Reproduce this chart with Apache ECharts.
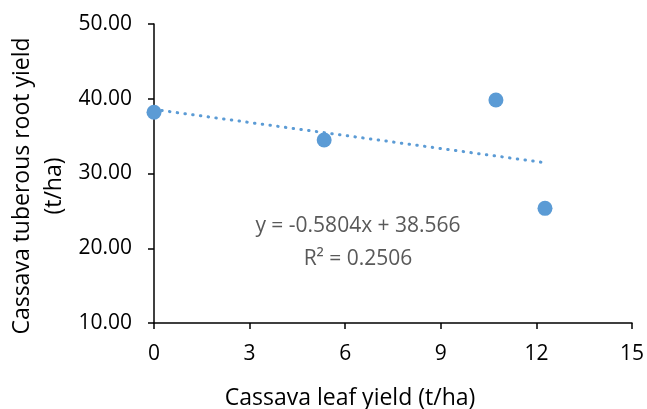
<!DOCTYPE html>
<html>
<head>
<meta charset="utf-8">
<script src="https://cdn.jsdelivr.net/npm/echarts@6/dist/echarts.min.js"></script>
<style>html,body{margin:0;padding:0;background:#fff}#c{width:647px;height:409px}</style>
</head>
<body>
<div id="c"></div>
<script>
// Data
var leafYield = [0, 5.34, 10.73, 12.27];
var rootYield = [38.19, 34.48, 39.83, 25.34];
var trendSlope = -0.5804;
var trendIntercept = 38.566;
var trendX = [0, 12.2];
var xTicks = [0, 3, 6, 9, 12, 15];
var yTicks = [10, 20, 30, 40, 50];
var xTitle = 'Cassava leaf yield (t/ha)';
var yTitle = 'Cassava tuberous root yield\n(t/ha)';
var eqText = 'y = -0.5804x + 38.566';
var r2Text = 'R\u00B2 = 0.2506';

var FONT = '"Open Sans", sans-serif';
var chart = echarts.init(document.getElementById('c'));
var pts = leafYield.map(function (x, i) { return [x, rootYield[i]]; });
var trend = trendX.map(function (x) { return [x, trendIntercept + trendSlope * x]; });

chart.setOption({
  animation: false,
  backgroundColor: '#ffffff',
  grid: { left: 154, right: 13, top: 24, bottom: 86, containLabel: false },
  xAxis: {
    type: 'value', min: xTicks[0], max: xTicks[xTicks.length - 1], interval: 3,
    axisLine: { show: true, onZero: false, lineStyle: { color: '#000', width: 1.5 } },
    axisTick: { show: true, length: 6, lineStyle: { color: '#000', width: 1.5 } },
    axisLabel: { color: '#000', fontFamily: FONT, fontSize: 21, margin: 21 },
    splitLine: { show: false }
  },
  yAxis: {
    type: 'value', min: yTicks[0], max: yTicks[yTicks.length - 1], interval: 10,
    axisLine: { show: true, lineStyle: { color: '#000', width: 1.5 } },
    axisTick: { show: true, length: 6, lineStyle: { color: '#000', width: 1.5 } },
    axisLabel: { color: '#000', fontFamily: FONT, fontSize: 21, margin: 22,
      formatter: function (v) { return v.toFixed(2); } },
    splitLine: { show: false }
  },
  series: [
    {
      type: 'line', data: trend, symbol: 'none', silent: true, z: 1,
      lineStyle: { color: '#5B9BD5', width: 3, type: [0.5, 7.3], cap: 'round' }
    },
    {
      type: 'scatter', data: pts, symbol: 'circle', symbolSize: 15, z: 3,
      itemStyle: { color: '#5B9BD5', opacity: 1 }
    }
  ],
  graphic: [
    { type: 'text', x: 350, y: 398, style: { text: xTitle, fill: '#000', font: '23px ' + FONT, textAlign: 'center', textVerticalAlign: 'middle' } },
    { type: 'text', x: 38, y: 186, rotation: Math.PI / 2, style: { text: yTitle, fill: '#000', font: '23px ' + FONT, textAlign: 'center', textVerticalAlign: 'middle', lineHeight: 32 } },
    { type: 'text', x: 358, y: 226, style: { text: eqText, fill: '#595959', font: '21px ' + FONT, textAlign: 'center', textVerticalAlign: 'middle' } },
    { type: 'text', x: 358, y: 259, style: { text: r2Text, fill: '#595959', font: '21px ' + FONT, textAlign: 'center', textVerticalAlign: 'middle' } }
  ]
});
</script>
</body>
</html>
